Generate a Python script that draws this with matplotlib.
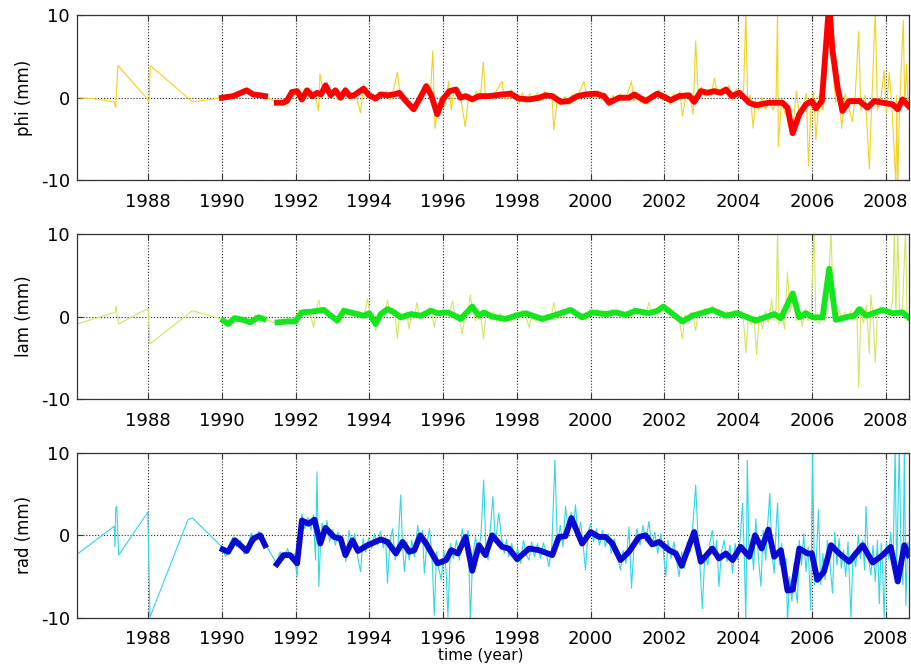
"""
Station coordinate residuals (phi / lam / rad) 1986-2008:
thin line = individual solutions, thick line = smoothed series.
Output: out.png
"""

import numpy as np
import matplotlib.pyplot as plt

plt.rcParams['axes.unicode_minus'] = False
plt.rcParams['font.family'] = 'DejaVu Sans'

# --- data (year, mm) ---

phi_raw = [
    (1986.07, 0.0), (1986.5, -0.1), (1987.08, -0.5), (1987.12, -1.2), (1987.18, 3.9),
    (1987.99, -0.2), (1988.02, -0.6), (1988.06, 3.9), (1989.2, -0.5), (1990.0, 0.0),
    (1990.1, 0.3), (1990.2, -0.1), (1990.3, 0.5), (1990.4, 0.1), (1990.5, 0.6),
    (1990.6, 0.4), (1990.7, 1.1), (1990.8, 0.2), (1990.9, 0.6), (1991.0, 0.1),
    (1991.1, 0.4), (1991.2, 0.0), (1991.35, -0.2), (1991.45, -0.5), (1991.55, -0.7),
    (1991.65, -0.3), (1991.75, -0.8), (1991.85, 0.6), (1991.95, 0.2),
    (1992.05, 1.0), (1992.15, -0.5), (1992.25, 1.1), (1992.35, 0.0), (1992.45, 0.5),
    (1992.55, -0.2), (1992.62, -1.6), (1992.66, 2.9), (1992.75, 0.6), (1992.85, 1.9),
    (1992.95, 0.0), (1993.05, 1.2), (1993.15, -0.3), (1993.25, 0.4), (1993.35, 1.3),
    (1993.45, -0.2), (1993.55, 0.6), (1993.65, 0.1), (1993.76, -1.8), (1993.85, 1.6),
    (1993.95, 0.0), (1994.05, 0.6), (1994.15, -0.5), (1994.25, 0.7), (1994.35, 0.0),
    (1994.45, 0.8), (1994.55, -0.3), (1994.65, 0.9), (1994.76, 3.1), (1994.85, -0.2),
    (1994.95, 0.3), (1995.05, -0.9), (1995.15, -1.6), (1995.25, -0.8), (1995.35, 0.5),
    (1995.45, 1.0), (1995.55, 1.8), (1995.65, 0.0), (1995.72, 5.7), (1995.78, -3.7),
    (1995.85, -1.5), (1995.95, 0.2), (1996.05, -1.0), (1996.15, 2.0), (1996.22, -1.5),
    (1996.3, 1.2), (1996.4, 0.5), (1996.5, -0.6), (1996.6, -3.5), (1996.7, 0.5),
    (1996.8, -0.5), (1996.9, 0.8), (1997.0, -0.3), (1997.09, 4.3), (1997.15, 0.0),
    (1997.25, 0.6), (1997.35, -0.2), (1997.45, 0.9), (1997.6, 2.0), (1997.65, 0.1),
    (1997.75, -0.2), (1997.85, 1.0), (1997.95, 0.0), (1998.05, -0.8), (1998.15, 0.6),
    (1998.25, -0.6), (1998.35, 0.5), (1998.45, -0.4), (1998.55, 0.6), (1998.65, -0.3),
    (1998.75, 0.8), (1998.85, 0.0), (1998.95, 0.6), (1999.0, -3.9), (1999.1, 0.0),
    (1999.2, -0.9), (1999.3, 0.2), (1999.4, -0.8), (1999.5, 0.4), (1999.6, -0.3),
    (1999.7, 0.7), (1999.82, 2.0), (1999.9, 0.0), (2000.0, 0.8), (2000.1, 0.1),
    (2000.2, 0.9), (2000.3, -0.3), (2000.4, 0.6), (2000.5, -1.0), (2000.6, 0.3),
    (2000.7, -0.4), (2000.8, 0.5), (2000.9, -0.3), (2001.0, 0.5), (2001.11, 2.0),
    (2001.17, -0.5), (2001.25, 0.7), (2001.35, -0.6), (2001.45, 0.2), (2001.55, -0.8),
    (2001.65, 0.4), (2001.75, 0.0), (2001.85, 1.0), (2001.95, -0.3), (2002.05, 0.4),
    (2002.15, -0.8), (2002.25, 0.5), (2002.35, -0.2), (2002.42, 0.8), (2002.49, -2.2),
    (2002.6, 0.6), (2002.7, -0.1), (2002.78, -2.0), (2002.85, 6.9), (2002.92, 0.2),
    (2003.0, 1.3), (2003.1, 0.2), (2003.2, 1.0), (2003.28, 0.3), (2003.35, 2.4),
    (2003.45, 0.4), (2003.55, 1.2), (2003.65, 0.5), (2003.75, 1.5), (2003.85, -0.3),
    (2003.95, 1.1), (2004.05, 0.2), (2004.15, 1.0), (2004.21, 10.5), (2004.26, -0.5),
    (2004.33, 0.3), (2004.41, -3.7), (2004.47, -0.2), (2004.55, -1.5), (2004.65, 0.0),
    (2004.75, -1.4), (2004.85, -0.2), (2004.95, -1.5), (2005.03, -0.2), (2005.07, 10.5),
    (2005.09, -5.9), (2005.18, -0.3), (2005.28, -2.0), (2005.38, -1.0), (2005.48, -4.0),
    (2005.58, 0.8), (2005.68, -2.5), (2005.75, -1.6), (2005.85, 0.5), (2005.91, -8.2),
    (2005.98, -1.0), (2006.05, 0.6), (2006.11, -5.1), (2006.2, 0.3), (2006.3, -1.5),
    (2006.38, 3.0), (2006.47, 10.5), (2006.56, 4.0), (2006.65, -0.5), (2006.74, 0.3),
    (2006.81, -3.7), (2006.9, 0.5), (2007.0, -1.2), (2007.1, -2.9), (2007.18, 0.5),
    (2007.27, 8.0), (2007.33, -1.5), (2007.45, 0.3), (2007.56, -8.6), (2007.63, 0.0),
    (2007.72, 10.5), (2007.78, -1.5), (2007.88, 0.2), (2007.96, 3.3), (2008.02, -1.8),
    (2008.1, 3.1), (2008.17, -1.0), (2008.28, -10.5), (2008.3, 0.3), (2008.33, -10.5),
    (2008.38, -1.0), (2008.48, 9.4), (2008.52, -0.8), (2008.57, 4.1), (2008.61, -1.5),
    (2008.64, 0.0),
]

phi_smooth = [
    (1990.00, 0.0), (1990.31, 0.2), (1990.67, 0.9), (1990.85, 0.4), (1991.04, 0.3),
    (1991.17, 0.2), (1991.3, np.nan),
    (1991.49, -0.6), (1991.65, -0.6), (1991.76, -0.4), (1991.90, 0.7), (1992.04, 0.8),
    (1992.17, -0.2), (1992.31, 0.9), (1992.45, 0.2), (1992.58, 0.6), (1992.69, 0.4),
    (1992.81, 1.5), (1992.95, 0.3), (1993.08, 0.9), (1993.22, 0.0), (1993.35, 0.9),
    (1993.47, 0.2), (1993.58, 0.3), (1993.84, 1.1), (1993.99, 0.3), (1994.17, -0.1),
    (1994.31, 0.4), (1994.49, 0.3), (1994.67, 0.4), (1994.81, 0.6), (1994.99, -0.4),
    (1995.20, -1.4), (1995.38, 0.0), (1995.54, 1.4), (1995.67, 0.4), (1995.84, -2.0),
    (1995.99, -0.2), (1996.17, 0.8), (1996.35, 1.0), (1996.47, 0.0), (1996.61, 0.2),
    (1996.79, -0.2), (1996.97, 0.2), (1997.24, 0.2), (1997.60, 0.4), (1997.83, 0.5),
    (1998.05, -0.1), (1998.33, -0.2), (1998.60, 0.0), (1998.78, 0.3), (1998.96, 0.2),
    (1999.19, -0.5), (1999.41, -0.4), (1999.64, 0.2), (1999.86, 0.4), (2000.14, 0.5),
    (2000.36, 0.2), (2000.50, -0.6), (2000.77, 0.0), (2001.04, 0.0), (2001.18, 0.4),
    (2001.49, -0.4), (2001.81, 0.5), (2002.04, 0.0), (2002.17, -0.3), (2002.40, 0.2),
    (2002.67, 0.3), (2002.81, -0.5), (2002.99, 0.8), (2003.17, 0.6), (2003.35, 0.8),
    (2003.53, 0.6), (2003.67, 1.0), (2003.83, 0.2), (2004.03, 0.6), (2004.30, -0.6),
    (2004.48, -0.9), (2004.84, -0.6), (2005.20, -0.6), (2005.34, -1.2), (2005.48, -4.3),
    (2005.66, -2.0), (2005.84, -0.8), (2006.00, -0.4), (2006.11, -1.3), (2006.27, -0.4),
    (2006.38, 6.1), (2006.47, 11.5), (2006.56, 5.7), (2006.70, 1.2), (2006.83, -1.6),
    (2007.01, -0.4), (2007.29, -0.4), (2007.51, -1.2), (2007.69, -0.4), (2007.92, -0.6),
    (2008.19, -0.8), (2008.33, -1.4), (2008.46, -0.2), (2008.62, -1.0),
]

lam_raw = [
    (1986.07, -0.9), (1987.1, 0.5), (1987.13, 1.3), (1987.16, 0.2), (1987.2, -0.9),
    (1988.0, 1.0), (1988.05, -3.3), (1989.2, 0.7), (1990.0, -0.3),
    (1990.1, -1.0), (1990.2, -0.4), (1990.3, 0.1), (1990.4, -0.6), (1990.5, -0.2),
    (1990.6, -0.8), (1990.7, -0.4), (1990.8, -1.0), (1990.9, 0.2), (1991.0, -0.3),
    (1991.1, 0.1), (1991.2, -0.4), (1991.35, -0.6), (1991.48, -0.9), (1991.6, -0.5),
    (1991.7, -1.0), (1991.8, -0.3), (1991.9, -0.9), (1992.0, -0.2),
    (1992.1, 0.9), (1992.2, 0.1), (1992.3, 0.8), (1992.4, 0.2), (1992.49, -1.3),
    (1992.56, 0.9), (1992.63, 2.0), (1992.7, 0.3), (1992.8, 1.1), (1992.9, 0.0),
    (1993.0, 0.1), (1993.1, -0.9), (1993.2, 0.4), (1993.3, 1.1), (1993.4, 0.2),
    (1993.5, 0.8), (1993.6, 0.0), (1993.7, 0.7), (1993.8, -0.2), (1993.88, 0.6),
    (1993.95, 2.1), (1994.05, -0.3), (1994.12, 0.5), (1994.17, -1.7), (1994.25, 0.0),
    (1994.35, 0.8), (1994.42, 0.3), (1994.49, 2.0), (1994.56, 0.4), (1994.64, 1.0),
    (1994.7, 0.0), (1994.76, -2.7), (1994.82, 0.6), (1994.9, -0.4), (1995.0, 0.6),
    (1995.08, -1.5), (1995.15, 0.7), (1995.22, -0.2), (1995.29, 1.7), (1995.36, -0.3),
    (1995.45, 0.5), (1995.55, 0.0), (1995.62, 1.1), (1995.7, 0.2), (1995.76, -1.3),
    (1995.84, 0.8), (1995.92, 0.0), (1996.0, 0.9), (1996.1, 0.1), (1996.18, 0.8),
    (1996.26, 1.9), (1996.33, -0.4), (1996.42, 0.3), (1996.52, -2.1), (1996.6, 0.2),
    (1996.68, 0.8), (1996.74, 2.6), (1996.8, 0.6), (1996.88, -0.5), (1996.95, 0.7),
    (1997.03, -0.4), (1997.1, -2.7), (1997.17, 0.8), (1997.25, -0.2), (1997.35, 0.6),
    (1997.45, -0.6), (1997.55, 0.4), (1997.65, -0.7), (1997.75, 0.2), (1997.85, -0.6),
    (1997.95, 0.5), (1998.05, -0.2), (1998.15, 0.8), (1998.25, 0.0), (1998.33, -1.3),
    (1998.42, 0.4), (1998.52, -0.6), (1998.62, 0.2), (1998.72, -0.7), (1998.82, 0.3),
    (1998.92, -0.3), (1999.0, 1.7), (1999.08, -0.2), (1999.18, 0.7), (1999.28, 0.0),
    (1999.38, 1.1), (1999.48, 0.3), (1999.58, 0.9), (1999.68, -0.4), (1999.78, 0.4),
    (1999.88, -0.3), (1999.98, 0.9), (2000.08, 0.0), (2000.18, 0.9), (2000.28, -0.1),
    (2000.38, 0.7), (2000.48, -0.1), (2000.58, 0.9), (2000.68, 0.1), (2000.78, 0.8),
    (2000.88, -0.2), (2000.98, 0.6), (2001.08, -0.1), (2001.18, 1.1), (2001.28, 0.2),
    (2001.38, 0.8), (2001.48, -0.1), (2001.58, 1.7), (2001.66, 0.2), (2001.75, 0.9),
    (2001.85, 0.2), (2001.95, 1.4), (2002.05, 0.4), (2002.15, 1.0), (2002.25, 0.0),
    (2002.35, 0.3), (2002.42, -0.9), (2002.49, -2.7), (2002.56, 0.2), (2002.65, -0.5),
    (2002.72, 0.5), (2002.78, 0.0), (2002.85, -1.7), (2002.92, 0.6), (2003.0, 0.1),
    (2003.1, 1.0), (2003.2, 0.3), (2003.3, 1.3), (2003.4, 0.5), (2003.5, 0.9),
    (2003.6, -0.3), (2003.7, 0.6), (2003.8, -0.2), (2003.9, 0.8), (2004.0, 0.0),
    (2004.08, 0.7), (2004.15, -0.6), (2004.21, -4.4), (2004.28, 0.2), (2004.36, -1.0),
    (2004.43, 0.1), (2004.5, -4.6), (2004.58, 0.2), (2004.66, -1.5), (2004.74, 0.6),
    (2004.82, -0.8), (2004.91, 2.1), (2004.97, -0.5), (2005.03, 0.8), (2005.07, 10.5),
    (2005.11, -1.0), (2005.18, 0.6), (2005.26, -1.5), (2005.34, 5.4), (2005.41, 0.5),
    (2005.5, 2.0), (2005.58, -0.5), (2005.66, 0.8), (2005.74, -1.2), (2005.82, 0.9),
    (2005.9, -0.5), (2005.98, 0.5), (2006.06, 10.5), (2006.11, -0.5), (2006.2, -0.9),
    (2006.28, 0.5), (2006.36, -0.6), (2006.44, 3.0), (2006.52, 10.5), (2006.58, 1.0),
    (2006.65, -0.6), (2006.74, 0.8), (2006.82, -0.4), (2006.9, 0.5), (2006.98, -0.2),
    (2007.06, 0.7), (2007.14, -0.3), (2007.22, 1.0), (2007.27, -8.6), (2007.33, 0.5),
    (2007.4, -0.8), (2007.48, 1.4), (2007.56, -4.5), (2007.6, 2.6), (2007.66, 0.0),
    (2007.72, -5.6), (2007.78, 0.6), (2007.86, 1.2), (2007.94, 0.3), (2008.02, 1.0),
    (2008.1, 0.0), (2008.19, 1.9), (2008.24, 10.5), (2008.28, 0.2), (2008.33, 10.5),
    (2008.38, 0.5), (2008.46, 1.0), (2008.54, 10.5), (2008.58, 0.3), (2008.64, 0.4),
]

lam_smooth = [
    (1990.04, -0.5), (1990.17, -0.9), (1990.35, -0.2), (1990.58, -0.4), (1990.76, -0.7),
    (1990.99, -0.1), (1991.13, -0.3), (1991.3, np.nan),
    (1991.51, -0.7), (1991.76, -0.6), (1991.99, -0.6), (1992.17, 0.5), (1992.45, 0.6),
    (1992.76, 0.8), (1993.13, -0.5), (1993.31, 0.7), (1993.58, 0.4), (1993.85, 0.1),
    (1993.99, 0.4), (1994.17, -0.9), (1994.31, 0.3), (1994.49, 0.9), (1994.67, 0.5),
    (1994.85, -0.1), (1995.13, 0.3), (1995.40, 0.1), (1995.67, 0.7), (1995.85, 0.4),
    (1996.13, 0.5), (1996.40, -0.1), (1996.47, -0.3), (1996.79, 1.2), (1996.97, 0.1),
    (1997.10, 0.5), (1997.33, 0.0), (1997.69, -0.3), (1997.96, 0.1), (1998.24, 0.4),
    (1998.69, -0.3), (1999.05, 0.2), (1999.46, 0.8), (1999.77, -0.1), (2000.05, 0.5),
    (2000.41, 0.3), (2000.68, 0.5), (2000.95, 0.2), (2001.22, 0.7), (2001.58, 0.4),
    (2001.81, 0.7), (2001.97, 1.2), (2002.17, 0.5), (2002.49, -0.6), (2002.76, 0.1),
    (2003.30, 0.8), (2003.67, 0.1), (2003.98, 0.4), (2004.48, -0.5), (2004.98, 0.3),
    (2005.16, -0.2), (2005.48, 2.8), (2005.66, -0.1), (2005.84, 0.4), (2006.02, -0.1),
    (2006.29, -0.1), (2006.47, 5.8), (2006.65, -0.4), (2006.92, -0.1), (2007.15, 0.1),
    (2007.29, 0.9), (2007.47, 0.1), (2007.92, 0.8), (2008.19, 0.4), (2008.46, 0.5),
    (2008.62, -0.1),
]

rad_raw = [
    (1986.07, -2.3), (1987.08, 1.1), (1987.1, -1.4), (1987.12, 3.3), (1987.15, 3.5),
    (1987.2, -2.4), (1987.99, 2.8), (1988.05, -9.9), (1989.08, 1.9), (1989.2, 2.1),
    (1990.0, -1.4),
    (1990.1, -2.6), (1990.2, -1.2), (1990.3, -0.2), (1990.4, -1.4), (1990.5, -0.6),
    (1990.6, -2.3), (1990.7, -1.2), (1990.8, 0.3), (1990.9, -0.8), (1991.0, 0.5),
    (1991.1, -0.6), (1991.2, -1.2), (1991.35, -2.4), (1991.48, -3.4), (1991.58, -2.0),
    (1991.68, -2.9), (1991.78, -1.6), (1991.88, -3.0), (1991.96, -2.2), (1992.04, -5.0),
    (1992.1, -1.0), (1992.17, 2.6), (1992.25, 0.8), (1992.33, 2.2), (1992.42, 0.6),
    (1992.48, 2.5), (1992.54, -3.0), (1992.58, 7.7), (1992.63, -6.2), (1992.68, -0.5),
    (1992.72, 1.5), (1992.78, 0.0), (1992.85, 1.8), (1992.92, -0.8), (1993.0, 0.7),
    (1993.08, -1.2), (1993.15, 0.4), (1993.22, -1.6), (1993.3, -0.8), (1993.36, -3.2),
    (1993.45, 0.6), (1993.52, -1.4), (1993.6, 0.2), (1993.69, -2.8), (1993.76, -4.4),
    (1993.83, -0.4), (1993.9, -2.0), (1993.98, -0.3), (1994.06, -1.6), (1994.14, 0.2),
    (1994.22, -1.2), (1994.3, 0.5), (1994.38, -1.5), (1994.44, -0.2), (1994.49, -5.8),
    (1994.56, -0.8), (1994.63, 0.8), (1994.7, -3.0), (1994.78, -1.0), (1994.85, 4.9),
    (1994.9, -1.2), (1994.95, -4.4), (1995.02, -0.8), (1995.08, -3.0), (1995.15, -0.6),
    (1995.22, -2.6), (1995.31, 1.2), (1995.38, -0.8), (1995.44, 0.6), (1995.49, -4.6),
    (1995.56, -1.0), (1995.63, 0.8), (1995.7, -2.6), (1995.76, -9.7), (1995.82, -2.0),
    (1995.88, -4.0), (1995.95, -5.4), (1996.02, -1.8), (1996.08, -4.2), (1996.13, -9.9),
    (1996.2, -1.0), (1996.28, -2.8), (1996.36, -0.6), (1996.44, -3.0), (1996.52, 0.8),
    (1996.6, -1.2), (1996.68, 0.6), (1996.74, -10.5), (1996.8, -2.5), (1996.88, -0.2),
    (1996.96, -2.6), (1997.03, 0.4), (1997.1, 6.7), (1997.16, -1.5), (1997.22, -3.0),
    (1997.28, 0.8), (1997.35, 4.7), (1997.42, -0.8), (1997.51, 2.7), (1997.58, -0.2),
    (1997.66, -2.2), (1997.72, -0.5), (1997.78, -2.6), (1997.86, -1.0), (1997.94, -3.0),
    (1998.02, -1.6), (1998.1, -3.4), (1998.18, -0.6), (1998.26, -2.4), (1998.33, -3.0),
    (1998.4, -0.8), (1998.48, -2.6), (1998.56, -1.0), (1998.64, -2.8), (1998.72, -0.9),
    (1998.8, -2.2), (1998.87, -3.8), (1998.95, -1.2), (1999.03, 9.1), (1999.1, -1.0),
    (1999.18, 1.2), (1999.25, -1.4), (1999.32, 3.5), (1999.4, 0.2), (1999.47, 2.8),
    (1999.53, 0.8), (1999.59, 3.7), (1999.66, -0.2), (1999.73, 1.6), (1999.8, -1.2),
    (1999.86, -4.2), (1999.93, 0.2), (2000.0, 1.4), (2000.08, -0.8), (2000.16, 0.8),
    (2000.24, -1.2), (2000.32, 0.6), (2000.4, -1.4), (2000.48, 0.2), (2000.56, -2.2),
    (2000.64, -0.4), (2000.72, -2.4), (2000.81, -4.2), (2000.88, -1.8), (2000.96, -3.4),
    (2001.04, 1.0), (2001.11, -6.4), (2001.18, -1.0), (2001.26, 0.8), (2001.34, -1.2),
    (2001.42, 1.2), (2001.5, -0.8), (2001.58, 1.7), (2001.66, -1.4), (2001.74, 0.4),
    (2001.82, -2.2), (2001.9, 0.2), (2001.97, -1.8), (2002.04, -5.0), (2002.1, -0.6),
    (2002.18, -2.8), (2002.26, -0.8), (2002.33, -3.0), (2002.4, -5.0), (2002.47, -2.0),
    (2002.55, -4.0), (2002.62, -0.8), (2002.7, -2.0), (2002.78, 1.6), (2002.85, 6.1),
    (2002.92, -1.0), (2002.97, -4.0), (2003.03, -8.9), (2003.1, -2.2), (2003.18, -3.6),
    (2003.24, -0.8), (2003.3, 0.6), (2003.37, -2.4), (2003.42, -0.6), (2003.48, -6.2),
    (2003.55, -2.0), (2003.62, -0.6), (2003.7, -3.2), (2003.78, -1.2), (2003.85, -4.6),
    (2003.92, -1.0), (2003.99, -3.0), (2004.06, -0.2), (2004.12, 3.9), (2004.17, -2.8),
    (2004.21, -10.5), (2004.25, 9.1), (2004.3, -2.8), (2004.36, -0.6), (2004.42, -4.2),
    (2004.48, 2.0), (2004.55, -2.6), (2004.62, -6.2), (2004.68, 0.6), (2004.75, -3.0),
    (2004.81, 1.8), (2004.86, 5.1), (2004.92, -2.4), (2004.98, -4.6), (2005.03, 0.8),
    (2005.07, 3.9), (2005.12, -3.6), (2005.18, -1.0), (2005.24, -5.2), (2005.3, -2.8),
    (2005.34, -10.5), (2005.4, -5.0), (2005.46, -8.0), (2005.52, -3.4), (2005.56, -6.6),
    (2005.61, -8.2), (2005.66, -0.6), (2005.72, -3.6), (2005.78, 0.2), (2005.84, -4.4),
    (2005.9, -1.4), (2005.97, -9.1), (2006.02, 10.5), (2006.07, -6.0), (2006.12, -3.0),
    (2006.18, 3.1), (2006.24, -6.0), (2006.3, -2.2), (2006.36, -5.4), (2006.42, -0.6),
    (2006.48, -2.8), (2006.56, -7.0), (2006.62, 0.4), (2006.68, -3.6), (2006.74, -0.4),
    (2006.8, -4.0), (2006.86, -1.8), (2006.92, -5.0), (2006.98, -0.8), (2007.06, -9.9),
    (2007.12, -2.0), (2007.19, -3.8), (2007.26, 0.0), (2007.32, -2.8), (2007.38, -0.6),
    (2007.43, -4.2), (2007.47, 3.5), (2007.53, -2.6), (2007.6, -4.8), (2007.66, -1.2),
    (2007.72, -5.6), (2007.78, -0.6), (2007.83, -8.3), (2007.88, -1.0), (2007.92, -4.0),
    (2007.96, -9.9), (2008.02, -0.8), (2008.08, -2.8), (2008.14, 0.4), (2008.2, -3.6),
    (2008.26, 10.5), (2008.3, -5.0), (2008.37, 10.5), (2008.42, -2.2), (2008.47, -6.0),
    (2008.51, 10.5), (2008.55, -8.5), (2008.6, -0.8), (2008.64, -2.0),
]

rad_smooth = [
    (1990.02, -1.7), (1990.17, -2.0), (1990.35, -0.6), (1990.67, -1.9), (1990.85, -0.4),
    (1991.04, 0.0), (1991.17, -1.2), (1991.3, np.nan),
    (1991.49, -3.5), (1991.67, -2.4), (1991.85, -2.4), (1992.04, -3.4), (1992.17, 1.8),
    (1992.35, 1.4), (1992.51, 1.9), (1992.67, -1.0), (1992.81, 0.9), (1993.04, -0.2),
    (1993.22, -0.4), (1993.35, -2.4), (1993.54, -0.6), (1993.69, -1.9), (1993.95, -1.2),
    (1994.31, -0.5), (1994.49, -0.8), (1994.72, -2.2), (1994.90, -0.8), (1995.08, -2.0),
    (1995.22, -1.8), (1995.38, 0.0), (1995.54, -1.0), (1995.85, -3.4), (1996.08, -3.0),
    (1996.22, -1.8), (1996.40, -2.2), (1996.61, -0.2), (1996.79, -4.3), (1996.97, -1.2),
    (1997.15, -2.4), (1997.33, 0.0), (1997.60, -1.4), (1997.78, -1.6), (1998.01, -2.9),
    (1998.33, -1.6), (1998.60, -1.8), (1998.96, -2.4), (1999.14, -0.2), (1999.32, -0.1),
    (1999.48, 2.1), (1999.77, -1.0), (2000.00, 0.4), (2000.23, -0.2), (2000.41, -0.2),
    (2000.59, -1.0), (2000.81, -3.0), (2001.04, -2.0), (2001.31, -0.2), (2001.49, 0.0),
    (2001.67, -1.1), (2001.86, -0.8), (2002.13, -1.8), (2002.31, -2.2), (2002.47, -3.7),
    (2002.81, 0.4), (2002.99, -3.2), (2003.30, -1.6), (2003.48, -2.8), (2003.67, -2.2),
    (2003.85, -3.0), (2004.07, -1.4), (2004.30, -2.6), (2004.46, 0.0), (2004.64, -1.6),
    (2004.82, 0.7), (2004.98, -2.6), (2005.16, -1.8), (2005.34, -6.7), (2005.48, -6.6),
    (2005.66, -1.6), (2005.88, -2.2), (2006.00, -2.2), (2006.15, -5.4), (2006.33, -4.4),
    (2006.52, -1.2), (2006.74, -2.2), (2007.01, -3.2), (2007.38, -1.2), (2007.65, -3.3),
    (2007.92, -2.4), (2008.14, -1.4), (2008.33, -5.6), (2008.51, -1.2), (2008.62, -2.4),
]

labels = ['phi (mm)', 'lam (mm)', 'rad (mm)']
raw_series = [phi_raw, lam_raw, rad_raw]
smooth_series = [phi_smooth, lam_smooth, rad_smooth]
raw_colors = ['#f2d21e', '#d6e464', '#2fd8e6']
smooth_colors = ['#ff0000', '#14e61e', '#0a0ad2']

year_ticks = [1988, 1990, 1992, 1994, 1996, 1998, 2000, 2002, 2004, 2006, 2008]

fig = plt.figure(figsize=(9.11, 6.65), dpi=100)

# panel rectangles matched to the reference layout
bottoms = [0.729, 0.400, 0.071]
for i in range(3):
    ax = fig.add_axes([0.0845, bottoms[i], 0.9135, 0.248])

    t, v = zip(*raw_series[i])
    ax.plot(t, v, color=raw_colors[i], linewidth=0.8)
    t, v = zip(*smooth_series[i])
    ax.plot(t, v, color=smooth_colors[i], linewidth=4.2, solid_joinstyle='round')

    ax.set_xlim(1986.07, 2008.64)
    ax.set_ylim(-10, 10)
    ax.set_xticks(year_ticks)
    ax.set_yticks([-10, 0, 10])
    ax.set_ylabel(labels[i], fontsize=12, labelpad=6)
    ax.tick_params(direction='in', top=True, right=True, length=4,
                   labelsize=13, color='#333333')
    ax.tick_params(axis='x', pad=9)
    ax.tick_params(axis='y', pad=5)
    ax.grid(True, linestyle=':', color='#222222', linewidth=0.8)
    for s in ax.spines.values():
        s.set_color('#333333')
        s.set_linewidth(0.9)

# x label sits right at the lower edge of the figure, as in the reference
ax.set_xlabel('time (year)', fontsize=11)
ax.xaxis.set_label_coords(0.485, -0.185)

plt.savefig('out.png', dpi=100)
